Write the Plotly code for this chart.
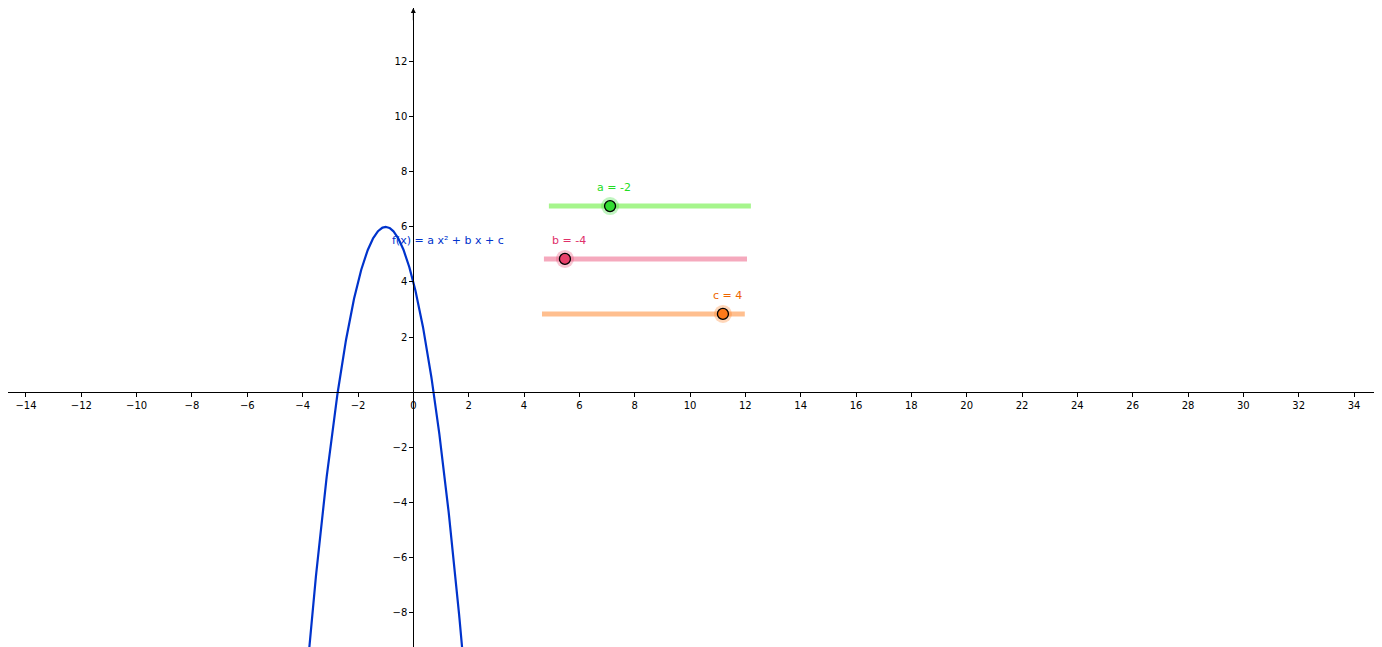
import numpy as np
import plotly.graph_objects as go

a, b, c = -2, -4, 4
x_range = [-14.65, 35.3]
y_range = [-9.56, 13.96]
x_ticks = list(range(-14, 35, 2))
y_ticks = [v for v in range(-8, 13, 2) if v != 0]

slider_names = ["a", "b", "c"]
slider_values = [a, b, c]
slider_start = [4.9, 4.72, 4.65]
slider_end = [12.2, 12.06, 11.98]
slider_y = [6.76, 4.84, 2.84]
slider_pos = [7.11, 5.48, 11.19]
line_colors = ["#a6f58c", "#f5a9bd", "#ffbf8f"]
dot_colors = ["#33dd33", "#e8406a", "#ff7a1a"]
label_colors = ["#22dd22", "#e0306a", "#ee6600"]

xs = np.linspace(-3.9, 1.9, 400)
ys = a * xs**2 + b * xs + c

fig = go.Figure()
fig.add_trace(go.Scatter(x=xs, y=ys, mode="lines", line=dict(color="#0033cc", width=2.2), hoverinfo="skip"))
for i in range(3):
    fig.add_trace(go.Scatter(x=[slider_start[i], slider_end[i]], y=[slider_y[i]] * 2, mode="lines",
                             line=dict(color=line_colors[i], width=5)))
    fig.add_trace(go.Scatter(x=[slider_pos[i]], y=[slider_y[i]], mode="markers",
                             marker=dict(size=18, color=dot_colors[i], opacity=0.3)))
    fig.add_trace(go.Scatter(x=[slider_pos[i]], y=[slider_y[i]], mode="markers",
                             marker=dict(size=11, color=dot_colors[i], line=dict(color="black", width=1.3))))
    fig.add_annotation(x=slider_pos[i] + 0.15, y=slider_y[i] + 0.68, text=f"{slider_names[i]} = {slider_values[i]}",
                       showarrow=False, font=dict(size=11, color=label_colors[i], family="DejaVu Sans"))

fig.add_annotation(x=-0.85, y=5.5, text="f(x) = a x² + b x + c", showarrow=False, xanchor="left",
                   font=dict(size=11, color="#0033cc", family="DejaVu Sans"))

# axis arrows
fig.add_annotation(x=x_range[1], y=0, ax=x_range[1] - 0.5, ay=0, axref="x", ayref="y", xref="x", yref="y",
                   showarrow=True, arrowhead=2, arrowsize=1, arrowwidth=1, arrowcolor="black", text="")
fig.add_annotation(x=0, y=y_range[1], ax=0, ay=y_range[1] - 0.5, axref="x", ayref="y", xref="x", yref="y",
                   showarrow=True, arrowhead=2, arrowsize=1, arrowwidth=1, arrowcolor="black", text="")

xpos = (0 - y_range[0]) / (y_range[1] - y_range[0])
ypos = (0 - x_range[0]) / (x_range[1] - x_range[0])
fig.update_layout(
    width=1382, height=647, margin=dict(l=0, r=0, t=0, b=0),
    plot_bgcolor="white", paper_bgcolor="white", showlegend=False,
    font=dict(family="DejaVu Sans", size=10, color="black"),
    xaxis=dict(range=x_range, anchor="free", position=xpos, showgrid=False, zeroline=False,
               showline=True, linecolor="black", linewidth=1, tickvals=x_ticks,
               ticks="outside", ticklen=4, tickcolor="black", fixedrange=True),
    yaxis=dict(range=y_range, anchor="free", position=ypos, showgrid=False, zeroline=False,
               showline=True, linecolor="black", linewidth=1, tickvals=y_ticks,
               ticks="outside", ticklen=4, tickcolor="black", fixedrange=True),
)
fig.write_html("out.html")
